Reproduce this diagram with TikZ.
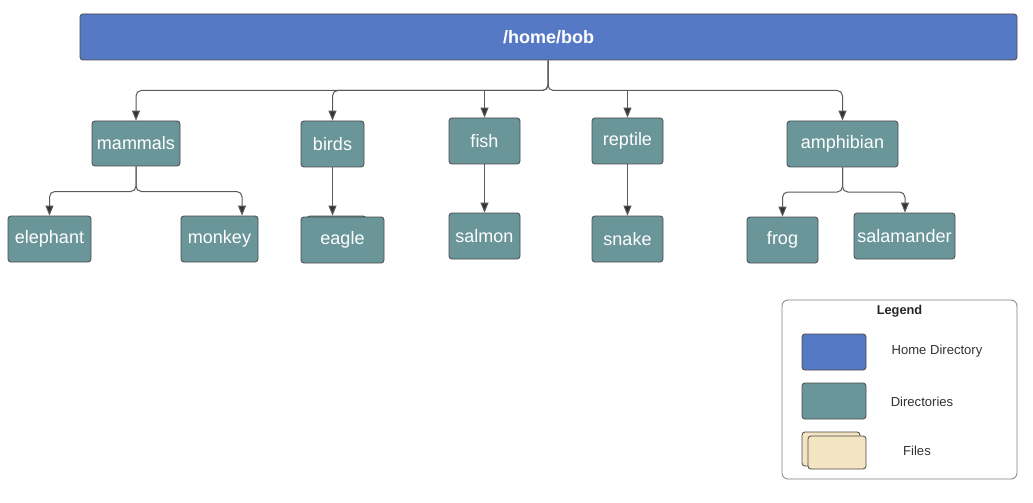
\documentclass[tikz,border=0pt]{standalone}
\usepackage{fontspec}
\setmainfont{Liberation Sans}
\usetikzlibrary{arrows.meta}
\definecolor{homeblue}{HTML}{5679C5}
\definecolor{dirteal}{HTML}{6A969A}
\definecolor{filecream}{HTML}{F3E4C2}
\definecolor{edgegray}{HTML}{4A4A4A}
\definecolor{linegray}{HTML}{5A5A5A}
\definecolor{tipgray}{HTML}{333333}
\tikzset{
  boxbase/.style n args={2}{rectangle, rounded corners=2.2pt, draw=edgegray, line width=0.6pt,
     minimum width=#1*0.75pt, minimum height=#2*0.75pt, inner sep=0pt},
  dirbox/.style n args={2}{boxbase={#1}{#2}, fill=dirteal, text=white, font=\fontsize{13.5}{15}\selectfont},
  homebox/.style n args={2}{boxbase={#1}{#2}, fill=homeblue, text=white, font=\bfseries\fontsize{13.5}{15}\selectfont},
  filebox/.style n args={2}{boxbase={#1}{#2}, fill=filecream, draw=edgegray},
  conn/.style={draw=linegray, line width=0.75pt, rounded corners=4pt,
     -{Triangle[length=7.5pt,width=6pt,fill=tipgray]}},
  legtext/.style={font=\fontsize{9.8}{12}\selectfont, text=black!80, anchor=center},
}
\begin{document}
\begin{tikzpicture}[x=0.75pt,y=-0.75pt]
\fill[white] (0,0) rectangle (1033,503);
\useasboundingbox (0,0) rectangle (1033,503);

% nodes
\node[homebox={937}{46}] (home) at (548.5,37) {/home/bob};
\node[dirbox={88}{45}] (mammals) at (136,143.5) {mammals};
\node[dirbox={63}{46}] (birds) at (332.5,144) {birds};
\node[dirbox={71}{46}] (fish) at (484.5,141) {fish};
\node[dirbox={71}{46}] (reptile) at (627.5,141) {reptile};
\node[dirbox={111}{46}] (amphibian) at (842.5,144) {amphibian};

\node[dirbox={83}{46}] (elephant) at (49.5,239) {elephant};
\node[dirbox={77}{46}] (monkey) at (219.5,239) {monkey};
\node[boxbase={59}{46}, fill=dirteal] (eagleback) at (336.5,239) {};
\node[dirbox={83}{46}] (eagle) at (342.5,240) {eagle};
\node[dirbox={71}{46}] (salmon) at (484.5,236) {salmon};
\node[dirbox={71}{46}] (snake) at (627.5,239) {snake};
\node[dirbox={71}{46}] (frog) at (782.5,240) {frog};
\node[dirbox={101}{46}] (salamander) at (904.5,236) {salamander};

% junctions
\coordinate (hj) at (548,90.5);
\coordinate (mj) at (136,191.5);
\coordinate (aj) at (842.5,192);

% connectors
\draw[conn] (home.south -| hj) -- (hj) -| (mammals.north);
\draw[conn] (home.south -| hj) -- (hj) -| (birds.north);
\draw[conn] (hj -| fish.north) -- (fish.north);
\draw[conn] (hj -| reptile.north) -- (reptile.north);
\draw[conn] (home.south -| hj) -- (hj) -| (amphibian.north);

\draw[conn] (mammals.south) -- (mj) -| (elephant.north);
\draw[conn] (mammals.south) -- (mj) -| (monkey.north -| 242,0);
\draw[conn] (birds.south) -- (birds.south |- eagleback.north);
\draw[conn] (fish.south) -- (salmon.north);
\draw[conn] (reptile.south) -- (snake.north);
\draw[conn] (amphibian.south) -- (aj) -| (frog.north);
\draw[conn] (amphibian.south) -- (aj) -| (salamander.north -| 905,0);

% legend
\node[draw=black!50, line width=0.6pt, rounded corners=4.5pt, minimum width=235*0.75pt,
      minimum height=179*0.75pt, inner sep=0pt] (legend) at (899.5,389.5) {};
\node[font=\bfseries\fontsize{9.6}{12}\selectfont, text=black!85] (legtitle) at (899.5,311.5) {Legend};
\node[boxbase={64}{36}, fill=homeblue] (lhome) at (834,352) {};
\node[legtext] (lhomet) at (937,351.5) {Home Directory};
\node[boxbase={64}{36}, fill=dirteal] (ldir) at (834,401) {};
\node[legtext] (ldirt) at (922,401.5) {Directories};
\node[filebox={58}{34}] (lfile1) at (831,449) {};
\node[filebox={58}{33}] (lfile2) at (837,452.5) {};
\node[legtext] (lfilet) at (917,450.5) {Files};
\end{tikzpicture}
\end{document}
